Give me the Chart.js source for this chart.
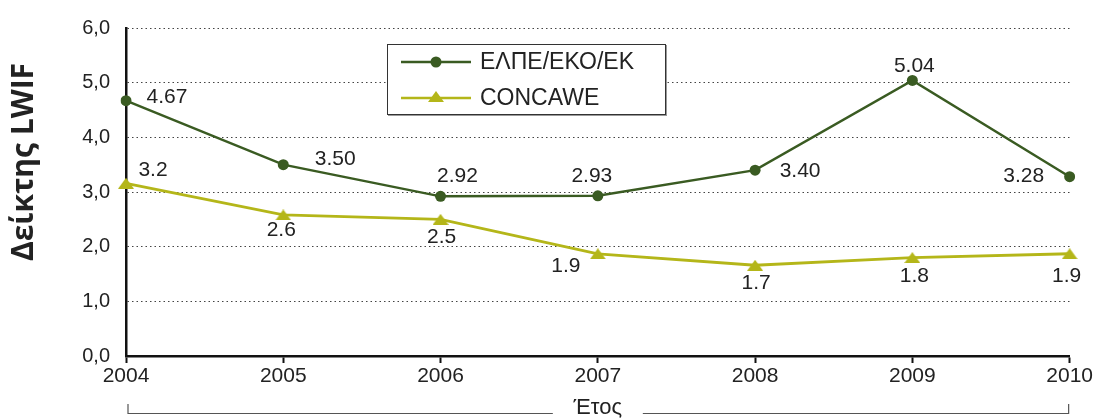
<!DOCTYPE html>
<html>
<head>
<meta charset="utf-8">
<script src="https://cdn.jsdelivr.net/npm/chart.js@4.4.1/dist/chart.umd.min.js"></script>
<style>
  html, body { margin: 0; padding: 0; background: #fff; }
</style>
</head>
<body>
<canvas id="lwifChart" width="1094" height="418"></canvas>
<script>
const years = ['2004', '2005', '2006', '2007', '2008', '2009', '2010'];
const elpeValues = [4.67, 3.50, 2.92, 2.93, 3.40, 5.04, 3.28];
const concaweValues = [3.16, 2.58, 2.50, 1.87, 1.66, 1.80, 1.87];
const yTicks = [0, 1, 2, 3, 4, 5, 6];

// where each value label sits relative to its point (dx, dy)
const elpeLabelOffsets = [[41, -4], [52, -5], [17, -20], [-6, -20], [45, 1], [2, -14], [-46, 0]];
const concaweLabelOffsets = [[27, -13], [-2, 15], [1, 18], [-32, 12], [1, 18], [2, 19], [-3, 22]];

const GREEN = '#3a5b22';
const OLIVE = '#b4b619';
const TEXT = '#222';
const FONT = "'Liberation Sans', Arial, sans-serif";

function makeTriangle(color) {
  const c = document.createElement('canvas');
  c.width = 16;
  c.height = 11;
  const g = c.getContext('2d');
  g.fillStyle = color;
  g.beginPath();
  g.moveTo(0, 11);
  g.lineTo(8, 0);
  g.lineTo(16, 11);
  g.closePath();
  g.fill();
  return c;
}
const triangle = makeTriangle(OLIVE);

const valueLabels = {
  id: 'valueLabels',
  afterDatasetsDraw(chart) {
    const ctx = chart.ctx;
    ctx.save();
    ctx.font = `21px ${FONT}`;
    ctx.fillStyle = TEXT;
    ctx.textAlign = 'center';
    ctx.textBaseline = 'middle';
    chart.data.datasets.forEach((ds, i) => {
      const meta = chart.getDatasetMeta(i);
      meta.data.forEach((pt, j) => {
        const [dx, dy] = ds.labelOffsets[j];
        ctx.fillText(ds.data[j].toFixed(ds.decimals), pt.x + dx, pt.y + dy);
      });
    });
    ctx.restore();
  },
};

const decorations = {
  id: 'decorations',
  afterDraw(chart) {
    const ctx = chart.ctx;
    const area = chart.chartArea;
    ctx.save();

    // y axis title
    ctx.fillStyle = TEXT;
    ctx.font = `bold 30px 'Open Sans', 'DejaVu Sans', sans-serif`;
    ctx.textAlign = 'center';
    ctx.textBaseline = 'middle';
    ctx.translate(24, 162);
    ctx.rotate(-Math.PI / 2);
    ctx.fillText('Δείκτης LWIF', 0, 0);
    ctx.setTransform(1, 0, 0, 1, 0, 0);

    // x axis title with bracket
    const midX = (area.left + area.right) / 2;
    ctx.font = `22px ${FONT}`;
    ctx.fillText('Έτος', midX, 408);
    ctx.strokeStyle = '#555';
    ctx.lineWidth = 1.2;
    ctx.beginPath();
    ctx.moveTo(area.left + 2, 404);
    ctx.lineTo(area.left + 2, 413.5);
    ctx.lineTo(midX - 45, 413.5);
    ctx.moveTo(midX + 45, 413.5);
    ctx.lineTo(area.right - 1, 413.5);
    ctx.lineTo(area.right - 1, 404);
    ctx.stroke();

    // legend box
    const bx = 387, by = 44, bw = 278, bh = 70;
    ctx.fillStyle = '#999';
    ctx.fillRect(bx + 1, by + 1, bw + 1, bh + 1);
    ctx.fillStyle = '#fff';
    ctx.fillRect(bx, by, bw, bh);
    ctx.strokeStyle = '#333';
    ctx.lineWidth = 1;
    ctx.strokeRect(bx + 0.5, by + 0.5, bw, bh);

    const rows = [
      { y: 62, color: GREEN, label: chart.data.datasets[0].label, marker: 'circle' },
      { y: 98, color: OLIVE, label: chart.data.datasets[1].label, marker: 'triangle' },
    ];
    rows.forEach((r) => {
      ctx.strokeStyle = r.color;
      ctx.lineWidth = 2.5;
      ctx.beginPath();
      ctx.moveTo(401, r.y);
      ctx.lineTo(471, r.y);
      ctx.stroke();
      if (r.marker === 'circle') {
        ctx.fillStyle = r.color;
        ctx.beginPath();
        ctx.arc(436, r.y, 5.5, 0, Math.PI * 2);
        ctx.fill();
      } else {
        ctx.drawImage(triangle, 436 - 8, r.y - 7);
      }
      ctx.fillStyle = TEXT;
      ctx.textAlign = 'left';
      ctx.font = `23px ${FONT}`;
      ctx.fillText(r.label, 480, r.y + 1);
    });

    ctx.restore();
  },
};

new Chart(document.getElementById('lwifChart'), {
  type: 'line',
  data: {
    labels: years,
    datasets: [
      {
        label: 'ΕΛΠΕ/ΕΚΟ/ΕΚ',
        data: elpeValues,
        labelOffsets: elpeLabelOffsets,
        decimals: 2,
        borderColor: GREEN,
        backgroundColor: GREEN,
        borderWidth: 2.5,
        pointStyle: 'circle',
        pointRadius: 5.5,
        pointBorderWidth: 0,
        tension: 0,
      },
      {
        label: 'CONCAWE',
        data: concaweValues,
        labelOffsets: concaweLabelOffsets,
        decimals: 1,
        borderColor: OLIVE,
        backgroundColor: OLIVE,
        borderWidth: 2.8,
        pointStyle: triangle,
        pointRadius: 6,
        tension: 0,
      },
    ],
  },
  options: {
    responsive: false,
    animation: false,
    layout: { padding: { top: 24, right: 24, left: 0, bottom: 0 } },
    plugins: {
      legend: { display: false },
      tooltip: { enabled: false },
    },
    scales: {
      x: {
        offset: false,
        afterFit: (scale) => { scale.height = 62; },
        grid: {
          drawOnChartArea: false,
          drawTicks: true,
          tickLength: 7,
          tickColor: '#111',
          tickWidth: 2,
        },
        border: { color: '#111', width: 2.5 },
        ticks: {
          color: TEXT,
          font: { family: FONT, size: 21 },
          padding: 1,
          maxRotation: 0,
          autoSkip: false,
        },
      },
      y: {
        min: 0,
        max: 6,
        afterFit: (scale) => { scale.width = 126; },
        afterBuildTicks: (scale) => { scale.ticks = yTicks.map((v) => ({ value: v })); },
        grid: {
          color: '#444',
          lineWidth: 1,
          drawTicks: false,
        },
        border: { color: '#111', width: 2.5, dash: [1.5, 3] },
        ticks: {
          color: TEXT,
          font: { family: FONT, size: 20 },
          padding: 16,
          callback: (v) => Number(v).toFixed(1).replace('.', ','),
        },
      },
    },
  },
  plugins: [valueLabels, decorations],
});
</script>
</body>
</html>
